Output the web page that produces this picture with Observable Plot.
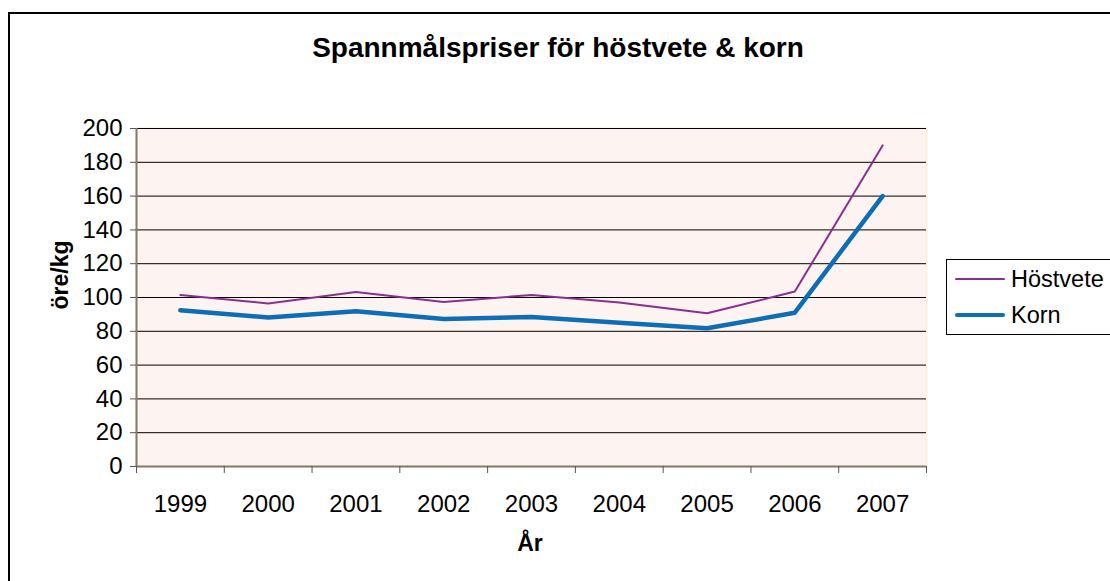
<!DOCTYPE html>
<html>
<head>
<meta charset="utf-8">
<script src="https://cdn.jsdelivr.net/npm/d3@7"></script>
<script src="https://cdn.jsdelivr.net/npm/@observablehq/plot@0.6"></script>
<style>
  html, body { margin: 0; padding: 0; background: #fff; }
  #wrap { position: relative; width: 1110px; height: 581px; overflow: hidden; font-family: "Liberation Sans", Arial, sans-serif; }
  #wrap svg { position: absolute; left: 0; top: 0; }
  .border { position: absolute; left: 8px; top: 12px; width: 1200px; height: 700px; border-left: 2px solid #000; border-top: 2px solid #000; box-sizing: border-box; }
  .title { position: absolute; left: 0; width: 1116px; top: 32px; text-align: center; font-weight: bold; font-size: 28px; color: #000; }
  .xlab { position: absolute; left: 430px; width: 200px; top: 530px; text-align: center; font-weight: bold; font-size: 23px; }
  .ylab { position: absolute; left: 60px; top: 275px; transform: translate(-50%, -50%) rotate(-90deg); font-weight: bold; font-size: 23px; white-space: nowrap; }
  .legend { position: absolute; left: 946px; top: 259px; width: 180px; height: 76px; border: 1px solid #000; box-sizing: border-box; background: #fff; }
  .item { position: absolute; left: 8px; height: 30px; font-size: 23.5px; display: flex; align-items: center; white-space: nowrap; }
  .sw { width: 50px; margin-right: 6px; border-radius: 2px; }
</style>
</head>
<body>
<div id="wrap"></div>
<script>
const years = [1999, 2000, 2001, 2002, 2003, 2004, 2005, 2006, 2007];
const hostvete = [101.5, 96.5, 103.2, 97.3, 101.5, 97, 90.7, 103.5, 190];
const korn = [92.4, 88.2, 91.8, 87.3, 88.5, 85, 81.8, 91, 160];
const yTicks = [0, 20, 40, 60, 80, 100, 120, 140, 160, 180, 200];
const seriesNames = ["Höstvete", "Korn"];
const seriesColors = ["#8a2f8e", "#0d6db6"];
const seriesWidths = [2, 4.5];

const xBounds = years.map(y => y - 0.5).concat([years[years.length - 1] + 0.5]);
const rows = [hostvete, korn].map(vals => years.map((yr, i) => ({year: yr, value: vals[i]})));

const chart = Plot.plot({
  width: 1110,
  height: 581,
  marginLeft: 136,
  marginRight: 184,
  marginTop: 128,
  marginBottom: 115,
  style: {fontFamily: "Liberation Sans, Arial, sans-serif", fontSize: "24px", color: "#000", background: "transparent"},
  x: {type: "linear", domain: [xBounds[0], xBounds[xBounds.length - 1]], label: null},
  y: {domain: [0, 200], label: null},
  marks: [
    Plot.frame({fill: "#fdf4f1", stroke: "#fdf0d6", strokeWidth: 2}),
    Plot.ruleY(yTicks.filter(v => v > 0), {stroke: "#000", strokeWidth: 1}),
    Plot.line(rows[0], {x: "year", y: "value", stroke: seriesColors[0], strokeWidth: seriesWidths[0]}),
    Plot.line(rows[1], {x: "year", y: "value", stroke: seriesColors[1], strokeWidth: seriesWidths[1]}),
    Plot.ruleX([xBounds[0]], {stroke: "#847a6c", strokeWidth: 2}),
    Plot.ruleY([0], {stroke: "#847a6c", strokeWidth: 2}),
    Plot.axisY({ticks: yTicks, tickSize: 6, tickPadding: 8, stroke: "#555", fontSize: 24, tickFormat: d => String(d), label: null}),
    Plot.axisX({ticks: xBounds, tickSize: 7, tickFormat: () => "", stroke: "#555", label: null}),
    Plot.axisX({ticks: years, tickSize: 0, tickPadding: 28, tickFormat: d => String(d), fontSize: 24, label: null})
  ]
});

const wrap = document.getElementById("wrap");
wrap.appendChild(chart);

const border = document.createElement("div");
border.className = "border";
wrap.appendChild(border);

const title = document.createElement("div");
title.className = "title";
title.textContent = "Spannmålspriser för höstvete & korn";
wrap.appendChild(title);

const xl = document.createElement("div");
xl.className = "xlab";
xl.textContent = "År";
wrap.appendChild(xl);

const yl = document.createElement("div");
yl.className = "ylab";
yl.textContent = "öre/kg";
wrap.appendChild(yl);

const legend = document.createElement("div");
legend.className = "legend";
seriesNames.forEach((name, i) => {
  const it = document.createElement("div");
  it.className = "item";
  it.style.top = (4 + i * 36) + "px";
  const sw = document.createElement("div");
  sw.className = "sw";
  sw.style.height = seriesWidths[i] + "px";
  sw.style.background = seriesColors[i];
  const tx = document.createElement("span");
  tx.textContent = name;
  it.appendChild(sw);
  it.appendChild(tx);
  legend.appendChild(it);
});
wrap.appendChild(legend);
</script>
</body>
</html>
